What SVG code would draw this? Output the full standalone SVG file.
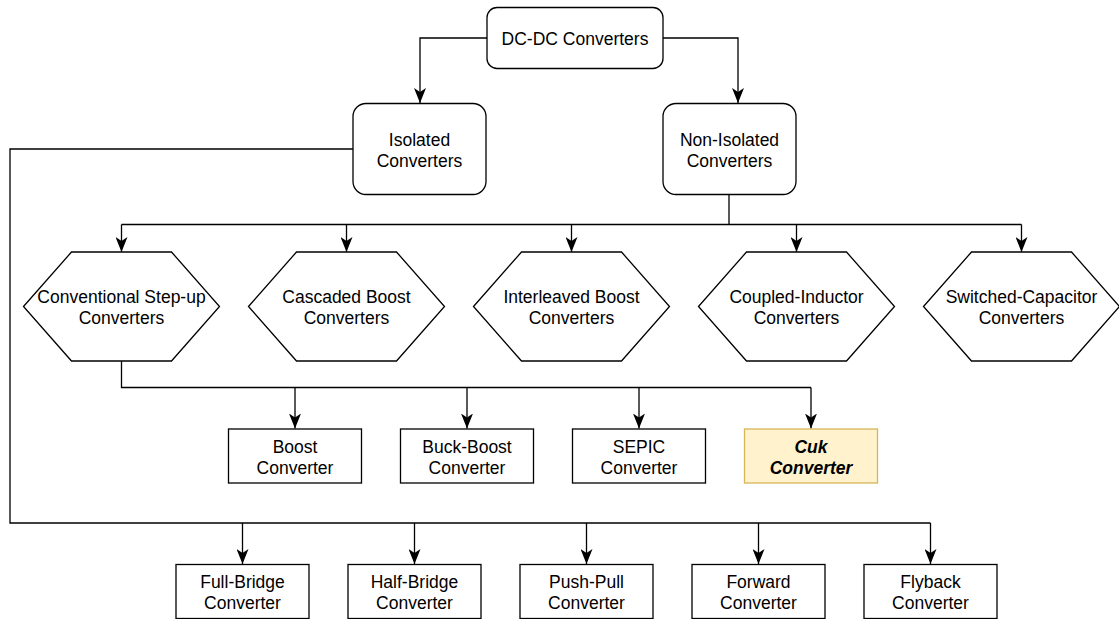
<svg xmlns="http://www.w3.org/2000/svg" width="1119" height="619" viewBox="0 0 1119 619">
<defs>
<style>
.n{fill:#ffffff;stroke:#000000;stroke-width:1.3}
.hl{fill:#fff2cc;stroke:#d6b656;stroke-width:1.3}
.t{font-family:"Liberation Sans",Arial,Helvetica,sans-serif;font-size:17.5px;text-anchor:middle;fill:#000000}
.bi{font-weight:bold;font-style:italic}
.c{fill:none;stroke:#000000;stroke-width:1.3;marker-end:url(#arrow)}
.c0{fill:none;stroke:#000000;stroke-width:1.3}
</style>
<marker id="arrow" markerUnits="userSpaceOnUse" viewBox="0 0 15 12" markerWidth="15" markerHeight="12" refX="15" refY="6" orient="auto">
<path d="M0,0 L15,6 L0,12 L4,6 Z" fill="#000000"/>
</marker>
</defs>
<rect width="1119" height="619" fill="#ffffff"/>
<g id="connectors">
<path class="c" d="M487,38 H420 V103"/>
<path class="c" d="M663,38 H738 V103"/>
<path class="c0" d="M353,149 H10 V523 H930.5"/>
<path class="c" d="M242.5,523 V564"/>
<path class="c" d="M414.5,523 V564"/>
<path class="c" d="M586.5,523 V564"/>
<path class="c" d="M758.5,523 V564"/>
<path class="c" d="M930.5,523 V564"/>
<path class="c0" d="M729,194 V224.5 M121.5,224.5 H1021.5"/>
<path class="c" d="M121.5,224.5 V252"/>
<path class="c" d="M346.5,224.5 V252"/>
<path class="c" d="M571.5,224.5 V252"/>
<path class="c" d="M796.5,224.5 V252"/>
<path class="c" d="M1021.5,224.5 V252"/>
<path class="c0" d="M121.5,361 V387.5 H811"/>
<path class="c" d="M295,387.5 V428.5"/>
<path class="c" d="M467,387.5 V428.5"/>
<path class="c" d="M639,387.5 V428.5"/>
<path class="c" d="M811,387.5 V428.5"/>
</g>
<g id="dcdc">
<rect class="n" x="487" y="7.5" width="176" height="61" rx="10" ry="10"/>
<text class="t" x="575" y="44.5">DC-DC Converters</text>
</g>
<g id="isolated">
<rect class="n" x="353" y="103.5" width="133" height="91" rx="13" ry="13"/>
<text class="t" x="419.5" y="145.5">Isolated</text>
<text class="t" x="419.5" y="166.5">Converters</text>
</g>
<g id="nonisolated">
<rect class="n" x="663" y="103.5" width="133" height="91" rx="13" ry="13"/>
<text class="t" x="729.5" y="145.5">Non-Isolated</text>
<text class="t" x="729.5" y="166.5">Converters</text>
</g>
<g id="conventional">
<polygon class="n" points="23.5,306.5 71.5,252 171.5,252 219.5,306.5 171.5,361 71.5,361"/>
<text class="t" x="121.5" y="303">Conventional Step-up</text>
<text class="t" x="121.5" y="324">Converters</text>
</g>
<g id="cascaded">
<polygon class="n" points="248.5,306.5 296.5,252 396.5,252 444.5,306.5 396.5,361 296.5,361"/>
<text class="t" x="346.5" y="303">Cascaded Boost</text>
<text class="t" x="346.5" y="324">Converters</text>
</g>
<g id="interleaved">
<polygon class="n" points="473.5,306.5 521.5,252 621.5,252 669.5,306.5 621.5,361 521.5,361"/>
<text class="t" x="571.5" y="303">Interleaved Boost</text>
<text class="t" x="571.5" y="324">Converters</text>
</g>
<g id="coupled">
<polygon class="n" points="698.5,306.5 746.5,252 846.5,252 894.5,306.5 846.5,361 746.5,361"/>
<text class="t" x="796.5" y="303">Coupled-Inductor</text>
<text class="t" x="796.5" y="324">Converters</text>
</g>
<g id="switched">
<polygon class="n" points="923.5,306.5 971.5,252 1071.5,252 1119.5,306.5 1071.5,361 971.5,361"/>
<text class="t" x="1021.5" y="303">Switched-Capacitor</text>
<text class="t" x="1021.5" y="324">Converters</text>
</g>
<g id="boost">
<rect class="n" x="228.5" y="429" width="133" height="54"/>
<text class="t" x="295" y="452.5">Boost</text>
<text class="t" x="295" y="473.5">Converter</text>
</g>
<g id="buckboost">
<rect class="n" x="400.5" y="429" width="133" height="54"/>
<text class="t" x="467" y="452.5">Buck-Boost</text>
<text class="t" x="467" y="473.5">Converter</text>
</g>
<g id="sepic">
<rect class="n" x="572.5" y="429" width="133" height="54"/>
<text class="t" x="639" y="452.5">SEPIC</text>
<text class="t" x="639" y="473.5">Converter</text>
</g>
<g id="cuk">
<rect class="hl" x="744.5" y="429" width="133" height="54"/>
<text class="t bi" x="811" y="452.5">Cuk</text>
<text class="t bi" x="811" y="473.5">Converter</text>
</g>
<g id="fullbridge">
<rect class="n" x="176" y="564.5" width="133" height="54"/>
<text class="t" x="242.5" y="587.5">Full-Bridge</text>
<text class="t" x="242.5" y="608.5">Converter</text>
</g>
<g id="halfbridge">
<rect class="n" x="348" y="564.5" width="133" height="54"/>
<text class="t" x="414.5" y="587.5">Half-Bridge</text>
<text class="t" x="414.5" y="608.5">Converter</text>
</g>
<g id="pushpull">
<rect class="n" x="520" y="564.5" width="133" height="54"/>
<text class="t" x="586.5" y="587.5">Push-Pull</text>
<text class="t" x="586.5" y="608.5">Converter</text>
</g>
<g id="forward">
<rect class="n" x="692" y="564.5" width="133" height="54"/>
<text class="t" x="758.5" y="587.5">Forward</text>
<text class="t" x="758.5" y="608.5">Converter</text>
</g>
<g id="flyback">
<rect class="n" x="864" y="564.5" width="133" height="54"/>
<text class="t" x="930.5" y="587.5">Flyback</text>
<text class="t" x="930.5" y="608.5">Converter</text>
</g>
</svg>
